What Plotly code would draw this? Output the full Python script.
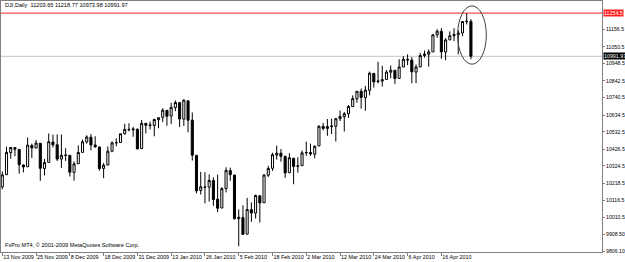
import datetime as dt
import plotly.graph_objects as go

# ---------------- data ----------------
dates = [
    "2009-11-13", "2009-11-16", "2009-11-17", "2009-11-18", "2009-11-19", "2009-11-20",
    "2009-11-23", "2009-11-24", "2009-11-25", "2009-11-27", "2009-11-30",
    "2009-12-01", "2009-12-02", "2009-12-03", "2009-12-04", "2009-12-07", "2009-12-08",
    "2009-12-09", "2009-12-10", "2009-12-11", "2009-12-14", "2009-12-15", "2009-12-16",
    "2009-12-17", "2009-12-18", "2009-12-21", "2009-12-22", "2009-12-23", "2009-12-24",
    "2009-12-28", "2009-12-29", "2009-12-30", "2009-12-31",
    "2010-01-04", "2010-01-05", "2010-01-06", "2010-01-07", "2010-01-08", "2010-01-11",
    "2010-01-12", "2010-01-13", "2010-01-14", "2010-01-15", "2010-01-19", "2010-01-20",
    "2010-01-21", "2010-01-22", "2010-01-25", "2010-01-26", "2010-01-27", "2010-01-28",
    "2010-01-29",
    "2010-02-01", "2010-02-02", "2010-02-03", "2010-02-04", "2010-02-05", "2010-02-08",
    "2010-02-09", "2010-02-10", "2010-02-11", "2010-02-12", "2010-02-16", "2010-02-17",
    "2010-02-18", "2010-02-19", "2010-02-22", "2010-02-23", "2010-02-24", "2010-02-25",
    "2010-02-26",
    "2010-03-01", "2010-03-02", "2010-03-03", "2010-03-04", "2010-03-05", "2010-03-08",
    "2010-03-09", "2010-03-10", "2010-03-11", "2010-03-12", "2010-03-15", "2010-03-16",
    "2010-03-17", "2010-03-18", "2010-03-19", "2010-03-22", "2010-03-23", "2010-03-24",
    "2010-03-25", "2010-03-26", "2010-03-29", "2010-03-30", "2010-03-31",
    "2010-04-01", "2010-04-05", "2010-04-06", "2010-04-07", "2010-04-08", "2010-04-09",
    "2010-04-12", "2010-04-13", "2010-04-14", "2010-04-15", "2010-04-16", "2010-04-19",
    "2010-04-20", "2010-04-21", "2010-04-22", "2010-04-23", "2010-04-26", "2010-04-27",
]

opens = [
    10197, 10271, 10406, 10436, 10425, 10330, 10319, 10449, 10433, 10462, 10309,
    10346, 10470, 10453, 10366, 10388, 10389, 10285, 10338, 10407, 10471, 10499,
    10452, 10440, 10309, 10330, 10414, 10465, 10467, 10520, 10547, 10544, 10548,
    10430, 10584, 10570, 10571, 10606, 10620, 10663, 10628, 10680, 10710, 10609,
    10721, 10603, 10389, 10175, 10196, 10195, 10235, 10122,
    10068, 10187, 10296, 10269, 10003, 10010, 9909, 10058, 10037, 10143, 10100,
    10268, 10310, 10391, 10402, 10382, 10283, 10371, 10322,
    10326, 10404, 10406, 10396, 10446, 10565, 10552, 10563, 10566, 10612, 10624,
    10642, 10686, 10733, 10779, 10740, 10785, 10888, 10837, 10841, 10851, 10895, 10907,
    10857, 10927, 10973, 10969, 10896, 10927, 10997, 11005, 11019, 11123, 11144,
    11018, 11092, 11117, 11124, 11134, 11204, 11203.65,
]
highs = [
    10291, 10441, 10439, 10438, 10426, 10333, 10497, 10460, 10482, 10463, 10367,
    10522, 10515, 10516, 10516, 10432, 10390, 10352, 10450, 10485, 10511, 10518,
    10505, 10441, 10342, 10443, 10474, 10492, 10521, 10581, 10584, 10562, 10552,
    10604, 10584, 10594, 10612, 10619, 10676, 10663, 10709, 10723, 10710, 10730,
    10721, 10650, 10389, 10288, 10286, 10273, 10255, 10272,
    10195, 10316, 10314, 10270, 10060, 10085, 10130, 10102, 10150, 10143, 10273,
    10325, 10405, 10448, 10427, 10388, 10402, 10373, 10377,
    10418, 10472, 10460, 10450, 10572, 10586, 10610, 10612, 10616, 10662, 10653,
    10695, 10754, 10780, 10796, 10812, 10899, 10889, 10958, 10934, 10908, 10936, 10908,
    10974, 10993, 11004, 10987, 10942, 11013, 11027, 11034, 11124, 11157, 11163,
    11102, 11144, 11163, 11152, 11205, 11254, 11218.77,
]
lows = [
    10182, 10269, 10368, 10383, 10277, 10285, 10319, 10373, 10433, 10234, 10267,
    10346, 10437, 10354, 10312, 10355, 10260, 10235, 10337, 10406, 10460, 10420,
    10435, 10295, 10250, 10329, 10408, 10444, 10466, 10515, 10535, 10502, 10426,
    10430, 10522, 10546, 10505, 10554, 10591, 10569, 10580, 10658, 10561, 10568,
    10529, 10357, 10157, 10150, 10097, 10107, 10081, 10043,
    10068, 10163, 10234, 10000, 9835, 9906, 9909, 9984, 10004, 9980, 10100,
    10256, 10294, 10363, 10350, 10252, 10283, 10213, 10283,
    10326, 10386, 10386, 10371, 10446, 10541, 10508, 10519, 10473, 10598, 10534,
    10618, 10686, 10709, 10673, 10660, 10755, 10801, 10827, 10808, 10851, 10858, 10824,
    10857, 10927, 10938, 10828, 10829, 10927, 10984, 10929, 11019, 11105, 10977,
    10968, 11092, 11085, 11004, 11114, 11186, 10973.98,
]
closes = [
    10270, 10407, 10437, 10426, 10332, 10318, 10451, 10434, 10464, 10310, 10345,
    10472, 10453, 10366, 10389, 10390, 10286, 10337, 10406, 10472, 10501, 10452,
    10441, 10308, 10329, 10414, 10465, 10466, 10520, 10547, 10545, 10549, 10428,
    10584, 10572, 10574, 10607, 10618, 10664, 10627, 10681, 10711, 10610, 10725,
    10603, 10390, 10173, 10197, 10194, 10236, 10120, 10067,
    10186, 10297, 10271, 10002, 10012, 9908, 10059, 10038, 10144, 10099, 10269,
    10309, 10393, 10402, 10383, 10282, 10374, 10321, 10325,
    10404, 10406, 10397, 10444, 10566, 10553, 10564, 10567, 10612, 10625, 10642,
    10686, 10734, 10779, 10742, 10786, 10889, 10836, 10841, 10850, 10896, 10907, 10857,
    10927, 10974, 10970, 10898, 10927, 10997, 11006, 11019, 11123, 11145, 11019,
    11092, 11117, 11125, 11134, 11204, 11205, 10991.97,
]

price_ticks = [11156.5, 11050.5, 10948.5, 10842.5, 10740.5, 10634.5, 10532.5,
               10426.5, 10324.5, 10218.5, 10116.5, 10010.5, 9908.5, 9806.1]
price_tick_labels = ["11156.5", "11050.5", "10948.5", "10842.5", "10740.5", "10634.5",
                     "10532.5", "10426.5", "10324.5", "10218.5", "10116.5", "10010.5",
                     "9908.50", "9806.10"]
red_level = 11254.5
red_label = "11254.5"
symbol = "DJI,Daily"
copyright_text = "FxPro MT4, \u00a9 2001-2009 MetaQuotes Software Corp."

# ---------------- figure ----------------
idx = list(range(len(dates)))
tick_idx = idx[::8]


def fmt(d):
    t = dt.date.fromisoformat(d)
    return f"{t.day} {t.strftime('%b %Y')}"


tick_text = [fmt(dates[i]) for i in tick_idx]

W, H = 625, 262
ML, MR, MT, MB = 0, 20, 1, 10
plot_w = W - ML - MR
bar_px = 4.25
x_lo = -1.3 / bar_px
x_hi = x_lo + plot_w / bar_px
y_lo, y_hi = 9800.2, 11328.8

fig = go.Figure(
    go.Candlestick(
        x=idx, open=opens, high=highs, low=lows, close=closes,
        increasing=dict(line=dict(color="black", width=1), fillcolor="white"),
        decreasing=dict(line=dict(color="black", width=1), fillcolor="black"),
        whiskerwidth=0, hoverinfo="skip", showlegend=False,
    )
)

# red horizontal level line and bid line
fig.add_shape(type="line", xref="paper", x0=0, x1=1, yref="y", y0=red_level, y1=red_level,
              line=dict(color="#f25050", width=1.3), layer="below")
fig.add_shape(type="line", xref="paper", x0=0, x1=1, yref="y", y0=closes[-1], y1=closes[-1],
              line=dict(color="#c4c4c4", width=1), layer="below")

# ellipse around the last two candles
n = len(idx)
fig.add_shape(type="circle", xref="x", yref="y",
              x0=n - 1 - 3.15, x1=n - 1 + 3.65,
              y0=min(lows[-2:]) - 30, y1=max(highs[-2:]) + 45,
              line=dict(color="#404040", width=1))

font_family = "Liberation Sans, Arial, sans-serif"

annotations = [
    dict(xref="paper", yref="paper", x=0.004, y=0.984, xanchor="left", yanchor="middle",
         text=f"{symbol}  {opens[-1]:.2f} {highs[-1]:.2f} {lows[-1]:.2f} {closes[-1]:.2f}",
         showarrow=False, font=dict(size=5.6, color="black", family=font_family)),
    dict(xref="paper", yref="paper", x=0.004, y=0.028, xanchor="left", yanchor="middle",
         text=copyright_text, showarrow=False,
         font=dict(size=5.6, color="black", family=font_family)),
    dict(xref="paper", yref="y", x=1, y=red_level, xanchor="left", yanchor="middle",
         xshift=1, text=red_label, showarrow=False, bgcolor="#ff2020", borderpad=0,
         font=dict(size=5.3, color="white", family=font_family)),
    dict(xref="paper", yref="y", x=1, y=closes[-1], xanchor="left", yanchor="middle",
         xshift=1, text=f"{closes[-1]:.2f}", showarrow=False, bgcolor="black", borderpad=0,
         font=dict(size=5.3, color="white", family=font_family)),
]

fig.update_layout(
    width=W, height=H, autosize=False,
    margin=dict(l=ML, r=MR, t=MT, b=MB, pad=0),
    paper_bgcolor="white", plot_bgcolor="white",
    showlegend=False,
    annotations=annotations,
    xaxis=dict(
        range=[x_lo, x_hi], tickmode="array", tickvals=tick_idx, ticktext=tick_text,
        ticks="outside", ticklen=3, tickcolor="#808080", ticklabelposition="outside right",
        tickangle=0,
        tickfont=dict(size=5.4, color="black", family=font_family),
        showgrid=False, zeroline=False, showline=True, mirror=True,
        linecolor="#808080", linewidth=1, rangeslider=dict(visible=False), fixedrange=True,
    ),
    yaxis=dict(
        side="right", range=[y_lo, y_hi], tickmode="array", tickvals=price_ticks,
        ticktext=price_tick_labels, ticks="outside", ticklen=2, tickcolor="#808080",
        tickfont=dict(size=5.2, color="black", family=font_family),
        showgrid=False, zeroline=False, showline=True, mirror=True,
        linecolor="#808080", linewidth=1, fixedrange=True,
    ),
)

fig.write_html("out.html")
